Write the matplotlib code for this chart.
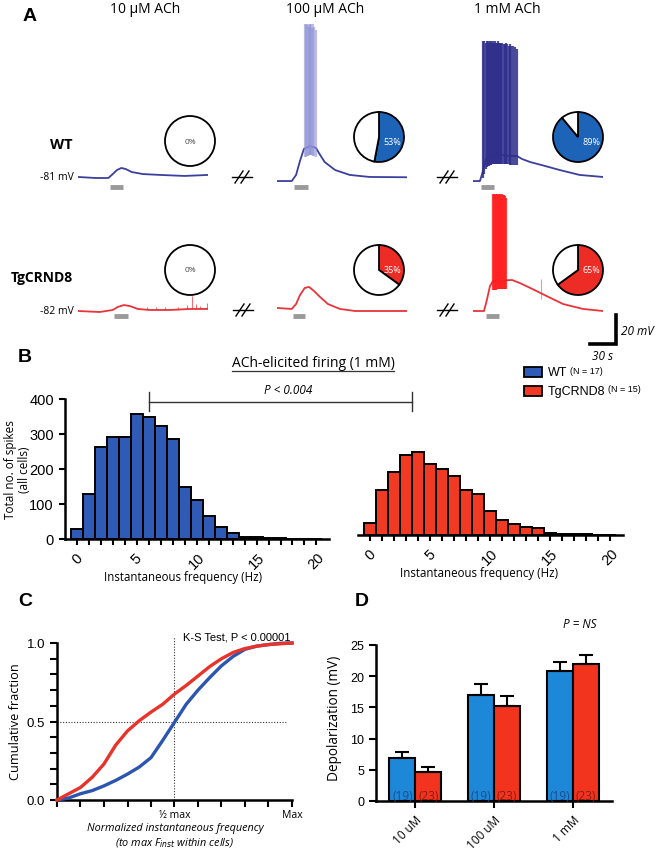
import numpy as np
import matplotlib
matplotlib.use("Agg")
import matplotlib.pyplot as plt
from matplotlib.patches import Rectangle

plt.rcParams['font.family'] = ['Open Sans', 'DejaVu Sans']
plt.rcParams['axes.linewidth'] = 1.8
NUM = ['Liberation Sans', 'DejaVu Sans']

W, H = 656, 853

# ---------------- panel A: traces (time in s, membrane potential in mV)
wt10_t = [0, 20, 35, 39, 45, 50, 55, 62, 75, 95, 123, 150]
wt10_v = [-79.6, -80.3, -80.3, -78.2, -74.8, -73.4, -74.1, -76.2, -77.6, -78.2, -78.9, -78.2]
wt100_t = [0, 17, 22, 26.5, 31, 38, 45, 48.4, 55, 67, 84, 107, 151]
wt100_v = [-82.4, -82.4, -78.2, -68.6, -60.3, -58.2, -59.6, -63.1, -69.3, -74.8, -78.2, -79.6, -79.8]
wt1m_t = [0, 8, 11.5, 15, 19.6, 31, 42.7, 50.7, 56.5, 66, 83, 100, 123, 150]
wt1m_v = [-82.4, -82.4, -75.5, -67.2, -65.1, -64.4, -65.1, -65.1, -67.2, -69.3, -72.0, -74.8, -78.2, -79.6]
tg10_t = [0, 25, 40, 46, 53, 60, 69, 83, 106, 129, 150]
tg10_v = [-82, -82.7, -81.3, -79.2, -77.9, -78.6, -80.6, -81.3, -81.3, -80.6, -80.6]
tg100_t = [0, 17, 22, 26.5, 32, 37, 42.7, 49.6, 58.8, 72.7, 90, 151]
tg100_v = [-79.9, -80.6, -77.2, -71, -66.1, -65.4, -68.2, -72.3, -77.2, -80.6, -82, -82]
tg1m_t = [0, 12.7, 16, 19.6, 23, 45, 54, 66, 85, 104, 127, 150]
tg1m_v = [-82, -82, -74.4, -64.8, -61.3, -60.6, -62.7, -66.1, -71.7, -77.2, -80.6, -82]

# spikes: times (s) and peaks (mV)
wt100_spk_t = [32, 33.5, 34.5, 35.5, 36.5, 37.5, 38.5, 39.5, 40.5, 41.5, 43, 44.5]
wt100_spk_v = [26, 26, 25, 26, 24, 26, 25, 26, 23, 26, 24, 22]
wt1m_spk_t = [12, 13.2, 14.5, 15.6, 16.8, 18, 19.3, 20.5, 21.6, 22.9, 24, 25.3, 26.5, 27.7, 29,
              30.2, 31.5, 32.8, 34, 35.4, 36.7, 38, 39.5, 41, 42.6, 44.3, 46, 48, 50.5]
wt1m_spk_v = [14, 14, 13, 14, 14, 13, 14, 14, 13, 14, 13, 14, 13, 13, 14,
              13, 13, 12, 13, 12, 12, 13, 12, 11, 12, 11, 11, 10, 9]
tg1m_spk_t = [23, 24.2, 25.3, 26.5, 27.6, 28.8, 30, 31.2, 32.4, 33.6, 34.8, 36, 37.3, 38.6]
tg1m_spk_v = [-1, -1, -2, -1, -1, -2, -1, -1, -2, -1, -2, -2, -3, -4]
tg10_evt_t = [80, 90, 100, 115, 126, 132, 136, 141, 149]
tg10_evt_v = [-79.5, -79.0, -79.5, -79.0, -78.2, -71.6, -77.5, -78.6, -76.5]

# ACh application (s)
wt_puff = [(37, 52), (20, 36), (9, 24)]
tg_puff = [(41.5, 57.7), (18.5, 32), (15, 30)]

# fraction of cells firing (%)
wt_fire = [0, 53, 89]
tg_fire = [0, 35, 65]
conc_titles = ['10 µM ACh', '100 µM ACh', '1 mM ACh']

# ---------------- panel B: spike counts per 1 Hz bin
freq_bins = list(range(21))
wt_counts = [29, 129, 262, 292, 292, 357, 350, 322, 287, 150, 112, 67, 33, 16, 6, 5, 3, 2, 1, 1, 0]
tg_counts = [34, 129, 181, 229, 236, 203, 189, 168, 130, 117, 68, 44, 31, 22, 19, 6, 4, 3, 2, 1, 0]

# ---------------- panel C: cumulative fraction
norm_freq = [0, 0.05, 0.1, 0.15, 0.2, 0.25, 0.3, 0.35, 0.4, 0.45, 0.5, 0.55, 0.6,
             0.65, 0.7, 0.75, 0.8, 0.85, 0.9, 0.95, 1.0]
wt_cdf = [0, 0.013, 0.04, 0.06, 0.09, 0.125, 0.165, 0.21, 0.27, 0.38, 0.495, 0.61, 0.70,
          0.78, 0.855, 0.915, 0.96, 0.98, 0.99, 0.998, 1.0]
tg_cdf = [0, 0.04, 0.08, 0.145, 0.23, 0.35, 0.44, 0.505, 0.56, 0.61, 0.675, 0.73, 0.79,
          0.85, 0.90, 0.94, 0.965, 0.98, 0.99, 0.995, 1.0]

# ---------------- panel D: depolarization (mV)
d_groups = ['10 uM', '100 uM', '1 mM']
wt_depol = [6.9, 17.0, 20.8]
wt_sem = [0.9, 1.7, 1.5]
tg_depol = [4.6, 15.3, 22.0]
tg_sem = [0.8, 1.5, 1.4]
wt_n = [19, 19, 19]
tg_n = [23, 23, 23]

WT_LINE = '#3b3f9e'
TG_LINE = '#e8343a'
PIE_BLUE = '#1d63b7'
PIE_RED = '#ec2c25'
HIST_BLUE = '#2f5bb7'
HIST_RED = '#f03a24'
D_BLUE = '#1e88d8'
D_RED = '#f2341f'


def box(L, T, R, B):
    return [L / W, 1 - B / H, (R - L) / W, (B - T) / H]


fig = plt.figure(figsize=(W / 100, H / 100), dpi=100)

# trace axes: 130 px for 150 s, 1.45 px per mV
col_x0 = [78, 277, 473]
wt_traces = [(wt10_t, wt10_v), (wt100_t, wt100_v), (wt1m_t, wt1m_v)]
tg_traces = [(tg10_t, tg10_v), (tg100_t, tg100_v), (tg1m_t, tg1m_v)]
wt_spikes = [None, (wt100_spk_t, wt100_spk_v, '#8e92d6', 0.6, 1.6),
             (wt1m_spk_t, wt1m_spk_v, '#2e2e8c', 0.85, 1.6)]
tg_spikes = [(tg10_evt_t, tg10_evt_v, TG_LINE, 0.7, 0.8), None,
             (tg1m_spk_t, tg1m_spk_v, '#ff2020', 0.85, 1.6)]

trace_axes = {}
for row, (traces, spikes, puffs, col, base_px, base_mv) in enumerate([
        (wt_traces, wt_spikes, wt_puff, WT_LINE, 180, -81),
        (tg_traces, tg_spikes, tg_puff, TG_LINE, 312, -82)]):
    for c in range(3):
        top = base_px - (30 - base_mv) * 1.45
        bot = base_px + (base_mv + 90) * 1.45
        ax = fig.add_axes(box(col_x0[c], top, col_x0[c] + 130, bot))
        ax.set_xlim(0, 150)
        ax.set_ylim(-90, 30)
        ax.axis('off')
        t, v = traces[c]
        ax.plot(t, v, color=col, lw=1.3, solid_joinstyle='round')
        if spikes[c] is not None:
            st, sv, sc, sa, slw = spikes[c]
            base = np.interp(st, t, v)
            lo = base - (6 if row == 0 or c == 2 else 0)
            ax.vlines(st, lo, sv, color=sc, lw=slw, alpha=sa)
        p0, p1 = puffs[c]
        ax.hlines(-86.5 if row == 0 else -85.5, p0, p1, color='#9a9a9a', lw=3.5)
        trace_axes[(row, c)] = ax

# small late event on the TgCRND8 1 mM trace
trace_axes[(1, 2)].vlines([78], -74, -60, color=TG_LINE, lw=0.8, alpha=0.5)

# scale bar: 30 s, 20 mV
sb = trace_axes[(1, 2)]
sb.plot([135, 165, 165], [-104.8, -104.8, -84.8], color='k', lw=2.6, clip_on=False,
        solid_joinstyle='miter')

# pies
pie_cx = [190, 379, 578]
for row, (fires, cy, pc) in enumerate([(wt_fire, 140, PIE_BLUE), (tg_fire, 271, PIE_RED)]):
    for c in range(3):
        cyy = cy + (2 if (row == 0 and c == 0) else (-2 if row == 0 else 0))
        pax = fig.add_axes(box(pie_cx[c] - 26, cyy - 26, pie_cx[c] + 26, cyy + 26))
        pct = fires[c]
        wp = dict(edgecolor='black', linewidth=1.3)
        if pct == 0:
            pax.pie([100], colors=['white'], startangle=90, wedgeprops=wp)
            pax.text(0, 0, '0%', ha='center', va='center', fontsize=6, color='#444444')
        else:
            pax.pie([pct, 100 - pct], colors=[pc, 'white'], startangle=90,
                    counterclock=False, wedgeprops=wp)
            dy = -0.18 if row == 0 else 0.0
            pax.text(0.55, dy, f'{pct}%', ha='center', va='center', fontsize=6.5,
                     color='white')
        pax.set_xlim(-1.04, 1.04)
        pax.set_ylim(-1.04, 1.04)
        pax.set_aspect('equal')

# ---------------- panel B histograms
hb1 = fig.add_axes(box(65, 400, 329, 540))
hb2 = fig.add_axes(box(358, 396, 623, 536))
for hax, counts, colr in [(hb1, wt_counts, HIST_BLUE), (hb2, tg_counts, HIST_RED)]:
    hax.bar(freq_bins, counts, width=1.0, color=colr, edgecolor='black', linewidth=1.4)
    hax.set_xlim(-1.0, 21.05)
    hax.set_ylim(0, 400)
    hax.spines['top'].set_visible(False)
    hax.spines['right'].set_visible(False)
    hax.set_xticks([0, 5, 10, 15, 20])
    hax.set_xticks(freq_bins, minor=True)
    hax.set_xticklabels(['0', '5', '10', '15', '20'], rotation=45, fontsize=10.5,
                        family=NUM)
    hax.tick_params(axis='x', which='both', direction='out', length=4.5, width=1.5)
    hax.tick_params(axis='y', direction='out', length=4.5, width=1.5)
hb1.set_yticks([0, 100, 200, 300, 400])
hb1.set_yticklabels(['0', '100', '200', '300', '400'], fontsize=10.5, family=NUM)
hb2.spines['left'].set_visible(False)
hb2.set_yticks([])

# ---------------- panel C
axc = fig.add_axes(box(57, 644, 292, 801))
axc.plot(norm_freq, wt_cdf, color='#2c55b0', lw=2.4, clip_on=False, zorder=3)
axc.plot(norm_freq, tg_cdf, color='#e8332a', lw=2.4, clip_on=False, zorder=4)
axc.set_xlim(0, 1)
axc.set_ylim(0, 1)
axc.plot([0.5, 0.5], [0, 1.04], color='#333333', lw=0.8, ls=(0, (1, 1.5)), clip_on=False)
axc.plot([0, 0.98], [0.5, 0.5], color='#333333', lw=0.8, ls=(0, (1, 1.5)))
axc.spines['top'].set_visible(False)
axc.spines['right'].set_visible(False)
axc.set_xticks([0.5, 1.0])
axc.set_xticklabels(['½ max', 'Max'], fontsize=7.5)
axc.set_xticks(np.arange(0, 1.01, 0.1), minor=True)
axc.set_yticks([0, 0.5, 1.0])
axc.set_yticklabels(['0.0', '0.5', '1.0'], fontsize=9.5, family=NUM)
axc.set_yticks(np.arange(0, 1.01, 0.1), minor=True)
axc.tick_params(which='both', direction='out', length=5, width=1.5)
axc.tick_params(axis='x', which='major', pad=1.5)

# ---------------- panel D
axd = fig.add_axes(box(376, 646, 612, 802))
xd = np.arange(len(d_groups))
bw = 0.33
axd.bar(xd - bw / 2, wt_depol, width=bw, color=D_BLUE, edgecolor='black', linewidth=1.5,
        yerr=[[0] * 3, wt_sem], error_kw=dict(ecolor='black', elinewidth=1.5, capsize=5,
                                               capthick=1.5))
axd.bar(xd + bw / 2, tg_depol, width=bw, color=D_RED, edgecolor='black', linewidth=1.5,
        yerr=[[0] * 3, tg_sem], error_kw=dict(ecolor='black', elinewidth=1.5, capsize=5,
                                               capthick=1.5))
for i in range(3):
    axd.text(xd[i] - bw / 2, 0.9, f'({wt_n[i]})', ha='center', va='center', fontsize=8.5,
             color='#1a4c8c')
    axd.text(xd[i] + bw / 2, 0.9, f'({tg_n[i]})', ha='center', va='center', fontsize=8.5,
             color='#8a1a10')
axd.set_xlim(-0.5, 2.5)
axd.set_ylim(0, 25)
axd.spines['top'].set_visible(False)
axd.spines['right'].set_visible(False)
axd.set_xticks(xd)
axd.set_xticklabels(d_groups, rotation=45, ha='right', rotation_mode='anchor', fontsize=8.5)
axd.set_yticks([0, 5, 10, 15, 20, 25])
axd.set_yticklabels(['0', '5', '10', '15', '20', '25'], fontsize=9, family=NUM)
axd.tick_params(direction='out', length=5, width=1.5)

# ---------------- overlay for labels and annotations (pixel coords)
ov = fig.add_axes([0, 0, 1, 1])
ov.set_xlim(0, W)
ov.set_ylim(H, 0)
ov.axis('off')

def T(x, y, s, **kw):
    kw.setdefault('ha', 'center')
    kw.setdefault('va', 'center')
    return ov.text(x, y, s, **kw)

for lbl, x, y in [('A', 30, 16), ('B', 25, 357), ('C', 25, 602), ('D', 362, 602)]:
    T(x, y, lbl, fontsize=14, fontweight='bold', family=['Liberation Sans', 'DejaVu Sans'])

for x, s in zip([145, 325, 507], conc_titles):
    T(x, 9, s, fontsize=10)
T(61, 145, 'WT', fontsize=10.5, fontweight='bold')
T(73, 278, 'TgCRND8', fontsize=10, fontweight='bold', ha='right')
T(74, 177, '-81 mV', fontsize=7.5, ha='right')
T(74, 311, '-82 mV', fontsize=7.5, ha='right')

# axis breaks
for bx, by in [(242, 178), (447, 178), (243, 311), (447, 311)]:
    ov.plot([bx - 10, bx + 10], [by, by], color='k', lw=1.0)
    for dx in (-3, 3):
        ov.plot([bx + dx - 4, bx + dx + 4], [by + 6, by - 6], color='k', lw=1.0)

T(621, 331, '20 mV', fontsize=8.5, style='italic', ha='left')
T(603, 356, '30 s', fontsize=8.5, style='italic')

ttl = T(313, 363, 'ACh-elicited firing (1 mM)', fontsize=10)
leg_txt = []
for y, colr, name, n in [(373, HIST_BLUE, 'WT', '(N = 17)'),
                         (392, HIST_RED, 'TgCRND8', '(N = 15)')]:
    ov.add_patch(Rectangle((524, y - 5), 18, 10, facecolor=colr, edgecolor='black', lw=1.3))
    leg_txt.append((T(548, y, name, fontsize=9, ha='left', family=NUM), y, n))

fig.canvas.draw()
rend = fig.canvas.get_renderer()
bb = ttl.get_window_extent(rend)
ov.plot([bb.x0, bb.x1], [H - bb.y0 + 1, H - bb.y0 + 1], color='#333333', lw=0.9)
for txt, y, n in leg_txt:
    e = txt.get_window_extent(rend)
    T(e.x1 + 3, y - 2, n, fontsize=6.5, ha='left', family=NUM)

# significance bracket
ov.plot([149, 412], [403, 403], color='#333333', lw=1.0)
ov.plot([149, 149], [393, 412], color='#333333', lw=1.0)
ov.plot([412, 412], [393, 412], color='#333333', lw=1.0)
T(288, 391, 'P < 0.004', fontsize=8.5, style='italic')

T(11, 470, 'Total no. of spikes', fontsize=8.5, rotation=90)
T(25, 470, '(all cells)', fontsize=8.5, rotation=90)
T(183, 577, 'Instantaneous frequency (Hz)', fontsize=8.3)
T(479, 574, 'Instantaneous frequency (Hz)', fontsize=8.3)

T(237, 637, 'K-S Test, P < 0.00001', fontsize=8, family=NUM)
T(16, 722, 'Cumulative fraction', fontsize=9.2, rotation=90)
T(175, 829, 'Normalized instantaneous frequency', fontsize=7.8, style='italic')
T(175, 843, r'(to max F$_{\it inst}$ within cells)', fontsize=7.8, style='italic')

T(580, 625, 'P = NS', fontsize=8.5, style='italic')
T(335, 718, 'Depolarization (mV)', fontsize=9.8, rotation=90)

fig.savefig('out.png', dpi=100)
